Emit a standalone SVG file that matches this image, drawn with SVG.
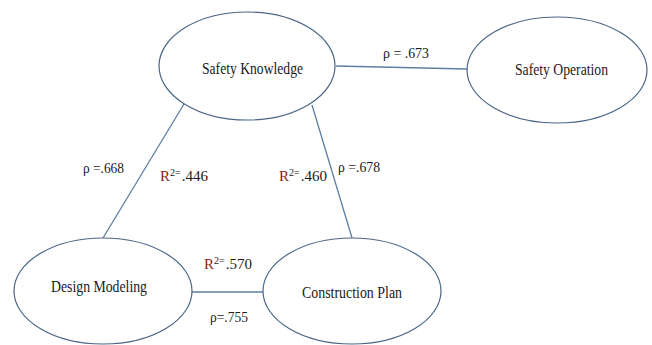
<svg xmlns="http://www.w3.org/2000/svg" width="652" height="345" viewBox="0 0 652 345">
<style>
.node ellipse{fill:#ffffff;stroke:#4a6585;stroke-width:1.2}
.edge{stroke:#5d7fa3;stroke-width:1.3;fill:none}
text{font-family:"Liberation Serif","DejaVu Serif",serif}
.lbl{font-size:16px;fill:#1a1a1a}
.el{font-size:15px;fill:#1a1a1a}
.r{fill:#8b1a1a}
.sup{font-size:10px}
</style>
<rect width="652" height="345" fill="#ffffff"/>
<g id="connectors">
<line class="edge" x1="336" y1="66" x2="467" y2="69"/>
<line class="edge" x1="184" y1="104" x2="103" y2="238"/>
<line class="edge" x1="312" y1="105" x2="352" y2="238"/>
<line class="edge" x1="192" y1="292" x2="263" y2="292"/>
</g>
<g id="safety-knowledge" class="node">
<ellipse cx="247" cy="66" rx="88" ry="54"/>
<text class="lbl" x="202" y="74" textLength="101" lengthAdjust="spacingAndGlyphs">Safety Knowledge</text>
</g>
<g id="safety-operation" class="node">
<ellipse cx="557" cy="70" rx="90" ry="53"/>
<text class="lbl" x="515" y="75" textLength="93" lengthAdjust="spacingAndGlyphs">Safety Operation</text>
</g>
<g id="design-modeling" class="node">
<ellipse cx="103" cy="291" rx="89" ry="53"/>
<text class="lbl" x="51" y="292" textLength="96" lengthAdjust="spacingAndGlyphs">Design Modeling</text>
</g>
<g id="construction-plan" class="node">
<ellipse cx="352" cy="291" rx="89" ry="53"/>
<text class="lbl" x="302" y="298" textLength="100" lengthAdjust="spacingAndGlyphs">Construction Plan</text>
</g>
<g id="labels">
<text class="el" x="383" y="58" textLength="46" lengthAdjust="spacingAndGlyphs">ρ = .673</text>
<text class="el" x="83" y="173" textLength="41" lengthAdjust="spacingAndGlyphs">ρ =.668</text>
<text class="el" x="338" y="172" textLength="42" lengthAdjust="spacingAndGlyphs">ρ =.678</text>
<text class="el" x="210" y="322" textLength="38" lengthAdjust="spacingAndGlyphs">ρ=.755</text>
<text class="el" x="160" y="181"><tspan class="r">R</tspan><tspan class="sup" dy="-5">2=</tspan><tspan dy="5" dx="1">.446</tspan></text>
<text class="el" x="279" y="181"><tspan class="r">R</tspan><tspan class="sup" dy="-5">2=</tspan><tspan dy="5" dx="1">.460</tspan></text>
<text class="el" x="204" y="269"><tspan class="r">R</tspan><tspan class="sup" dy="-5">2=</tspan><tspan dy="5" dx="1">.570</tspan></text>
</g>
</svg>
